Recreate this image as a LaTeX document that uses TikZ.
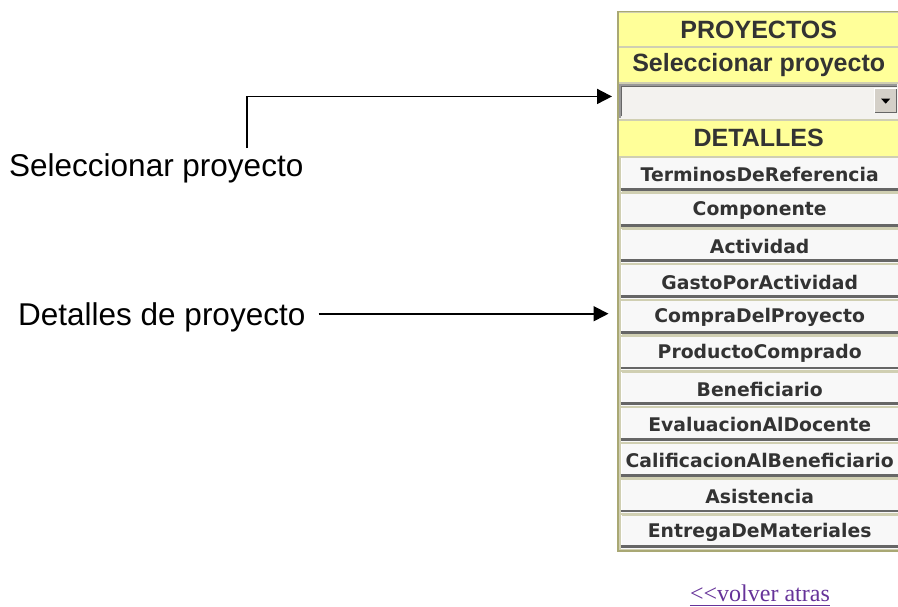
\documentclass[tikz,border=0pt]{standalone}
\usepackage{fontspec}
\setmainfont{Liberation Sans}
\newfontfamily\btnfont{DejaVu Sans}
\newfontfamily\linkfont{Liberation Serif}
\usetikzlibrary{arrows.meta}
\definecolor{hdr}{HTML}{FFFF99}
\definecolor{olivec}{HTML}{A9A874}
\definecolor{txt}{HTML}{333333}
\definecolor{btnfill}{HTML}{F8F8F8}
\definecolor{btnshadow}{HTML}{666666}
\definecolor{ddfill}{HTML}{F3F2EF}
\definecolor{ddbtn}{HTML}{D4D0C8}
\definecolor{linkc}{HTML}{663399}
\tikzset{
  lbl/.style={inner sep=0pt, font=\fontsize{31.5}{31.5}\selectfont, text=black},
  hdrrow/.style={anchor=north west, inner sep=0pt, minimum width=279pt, minimum height=33.5pt,
    fill=hdr, text=txt, font=\bfseries\fontsize{25}{25}\selectfont},
  ddrow/.style={anchor=north west, inner sep=0pt, minimum width=279pt, minimum height=34.5pt, fill=ddfill},
  btnrow/.style={anchor=north west, inner sep=0pt, minimum width=278pt, minimum height=33.2pt,
    fill=btnfill, text=txt, font=\btnfont\bfseries\fontsize{18.8}{18.8}\selectfont},
  conn/.style={line width=1.8pt, -{Triangle[length=15pt,width=15pt]}},
}
\begin{document}
\begin{tikzpicture}[x=1pt,y=-1pt]
\useasboundingbox (0,0) rectangle (898,606);
% panel frame
\fill[olivec] (616.5,10.5) rectangle (899,551.5);
\fill[olivec!55!white] (618.5,12) rectangle (899,550);
% header rows
\node[hdrrow] (proy) at (619,12.5) {PROYECTOS};
\node[hdrrow] (selp) at (619,48) {Seleccionar proyecto};
\node[ddrow] (dd) at (619,84) {};
\node[hdrrow, minimum height=35pt] (detl) at (619,120.5) {DETALLES};
% sunken border of the list box
\draw[gray!80, line width=1.5pt] (dd.south west) ++(1,-1) |- ([xshift=-1pt,yshift=-1pt]dd.north east);
\draw[black!60, line width=1pt] (dd.south west) ++(2.5,-2.5) |- ([xshift=-1pt,yshift=-2.5pt]dd.north east);
% drop-down button
\node[anchor=north west, inner sep=0pt, minimum width=23pt, minimum height=25pt, fill=ddbtn] (ddb) at (874,88) {};
\draw[white, line width=1pt] (ddb.south west) ++(0.5,-0.5) |- ([xshift=-0.5pt,yshift=-0.5pt]ddb.north east);
\draw[black!60, line width=1pt] ([xshift=0.5pt,yshift=0.5pt]ddb.south west) -| ([xshift=-0.5pt,yshift=-0.5pt]ddb.north east);
\fill[black] ([xshift=-4.5pt,yshift=2pt]ddb.center) -- ([xshift=4.5pt,yshift=2pt]ddb.center) -- ([yshift=-3pt]ddb.center) -- cycle;
% buttons
\foreach \t [count=\i from 0] in {TerminosDeReferencia,Componente,Actividad,GastoPorActividad,CompraDelProyecto,ProductoComprado,Beneficiario,EvaluacionAlDocente,CalificacionAlBeneficiario,Asistencia,EntregaDeMateriales}{
  \node[btnrow] (b\i) at (620.5,{158+35.73*\i}) {\raisebox{-1pt}{\t}};
  \draw[white, line width=1.2pt] ([xshift=0.6pt]b\i.south west) -- ([xshift=0.6pt]b\i.north west);
  \draw[btnshadow, line width=2.8pt] ([yshift=2.2pt]b\i.south west) -- ([yshift=2.2pt]b\i.south east);
}
% labels and connectors
\node[lbl, anchor=base west] (lab1) at (9,176) {Seleccionar proyecto};
\node[lbl, anchor=base west] (lab2) at (18,325) {Detalles de proyecto};
\coordinate (c1) at (247,148);
\coordinate (t1) at ([yshift=5pt]dd.west);
\draw[conn, shorten >=7pt] (c1) |- (t1);
\coordinate (t2) at ([yshift=4pt]b4.west);
\draw[conn, shorten <=13pt, shorten >=12pt] (lab2.east |- t2) -- (t2);
% back link
\node[inner sep=0pt, anchor=base, text=linkc, font=\linkfont\fontsize{24}{24}\selectfont] (back) at (760,601.5) {<{}<volver atras};
\draw[linkc, line width=1pt] ([yshift=-3.5pt]back.base west) -- ([yshift=-3.5pt]back.base east);
\end{tikzpicture}
\end{document}
